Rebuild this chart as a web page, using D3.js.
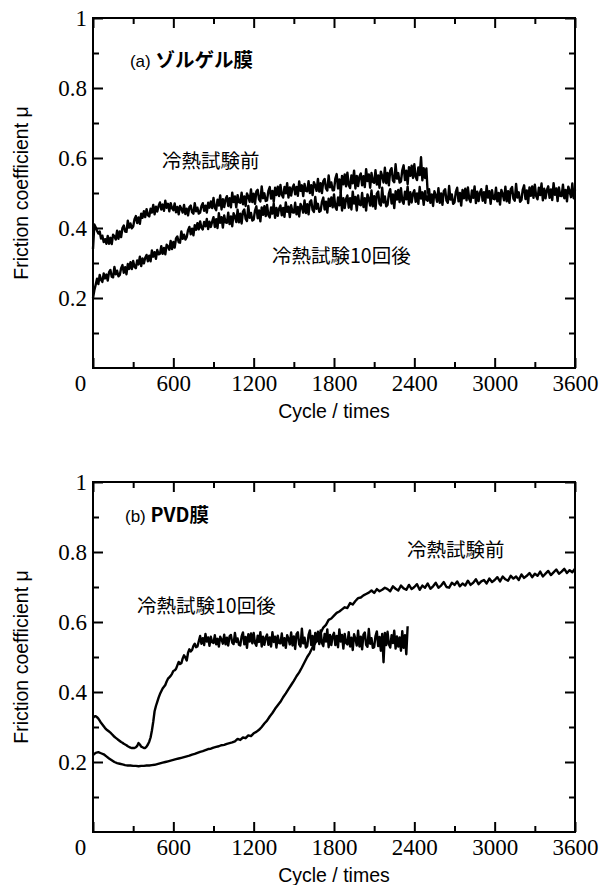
<!DOCTYPE html>
<html>
<head>
<meta charset="utf-8">
<script src="https://cdn.jsdelivr.net/npm/d3@7"></script>
<style>
  body { margin: 0; background: #fff; }
  .domain { display: none; }
  .tick line { stroke: #000; stroke-width: 2; }
  .frame { fill: none; stroke: #000; stroke-width: 2; }
  .line { fill: none; stroke: #000; stroke-width: 2.4; stroke-linejoin: round; }
  .label { font-family: "Liberation Sans", Arial, sans-serif; font-size: 19.5px; fill: #000; }
  .note { font-family: "Noto Sans CJK JP", sans-serif; font-size: 19.5px; fill: #000; }
</style>
</head>
<body>
<svg id="chart" width="602" height="885"></svg>
<script>
'use strict';

// sampling steps (cycles between two stored values)
var NOISY_STEP = 10;
var SMOOTH_STEP = 20;

var xMajor = [0, 600, 1200, 1800, 2400, 3000, 3600];
var xMinor = [300, 900, 1500, 2100, 2700, 3300];
var yMajor = [0.2, 0.4, 0.6, 0.8, 1];
var yMinor = [0.1, 0.3, 0.5, 0.7, 0.9];

// (a) sol-gel film, before thermal cycling, every 10 cycles
var solgelBefore = [
  .34, .41, .402, .392, .384, .39, .37, .378, .36, .368,
  .355, .377, .355, .372, .354, .381, .376, .367, .392, .369,
  .39, .374, .4, .407, .39, .389, .421, .401, .413, .399,
  .404, .425, .434, .414, .43, .412, .441, .429, .448, .431,
  .454, .437, .433, .455, .444, .466, .439, .461, .447, .463,
  .473, .453, .467, .449, .478, .458, .469, .448, .471, .457,
  .451, .47, .445, .46, .439, .463, .455, .444, .466, .44,
  .455, .436, .46, .464, .445, .441, .471, .448, .458, .441,
  .444, .463, .471, .449, .464, .444, .472, .458, .476, .457,
  .486, .458, .451, .481, .464, .493, .453, .482, .46, .482,
  .491, .463, .485, .459, .501, .474, .49, .459, .494, .474,
  .472, .501, .468, .49, .463, .499, .49, .475, .51, .474,
  .498, .469, .504, .509, .482, .476, .519, .485, .499, .477,
  .479, .506, .517, .484, .506, .475, .515, .494, .518, .491,
  .523, .495, .487, .517, .499, .528, .487, .516, .493, .515,
  .524, .496, .517, .492, .533, .506, .522, .491, .526, .506,
  .505, .534, .5, .522, .494, .531, .521, .506, .54, .504,
  .528, .5, .534, .54, .513, .507, .55, .516, .53, .508,
  .508, .541, .554, .513, .539, .501, .549, .525, .553, .519,
  .558, .523, .514, .55, .528, .564, .513, .549, .52, .547,
  .556, .522, .548, .517, .568, .534, .553, .515, .557, .532,
  .529, .565, .524, .55, .515, .561, .548, .53, .572, .528,
  .557, .522, .564, .571, .536, .531, .582, .541, .557, .53,
  .533, .565, .579, .537, .564, .525, .574, .549, .578, .543,
  .582, .546, .537, .573, .551, .602, .536, .571, .543, .57,
  .498
];

// (a) sol-gel film, after 10 thermal cycles, every 10 cycles
var solgelAfter = [
  .2, .222, .238, .255, .24, .266, .252, .246, .27, .256,
  .267, .25, .274, .28, .261, .259, .289, .268, .278, .262,
  .266, .285, .294, .272, .288, .268, .297, .283, .302, .283,
  .306, .289, .285, .307, .296, .318, .291, .313, .299, .315,
  .323, .305, .321, .305, .336, .318, .331, .312, .337, .325,
  .326, .348, .326, .343, .325, .352, .347, .338, .363, .34,
  .36, .344, .37, .376, .359, .358, .39, .369, .381, .367,
  .374, .394, .403, .382, .398, .379, .408, .395, .414, .396,
  .419, .401, .396, .417, .405, .426, .397, .418, .403, .418,
  .431, .403, .425, .4, .442, .415, .431, .401, .436, .416,
  .415, .444, .411, .433, .405, .442, .433, .417, .452, .416,
  .441, .413, .447, .453, .426, .42, .463, .429, .443, .421,
  .424, .45, .462, .428, .45, .419, .459, .438, .462, .434,
  .466, .437, .43, .459, .441, .47, .429, .457, .435, .456,
  .464, .436, .457, .432, .473, .446, .461, .431, .465, .445,
  .444, .472, .439, .46, .433, .469, .46, .444, .479, .443,
  .468, .439, .474, .479, .452, .446, .489, .455, .469, .446,
  .449, .475, .487, .453, .475, .444, .484, .463, .487, .459,
  .496, .46, .452, .487, .465, .501, .45, .485, .457, .483,
  .493, .458, .485, .453, .504, .47, .489, .45, .493, .467,
  .465, .5, .46, .485, .45, .496, .483, .464, .507, .462,
  .491, .455, .498, .504, .469, .464, .515, .473, .49, .462,
  .466, .498, .511, .47, .496, .457, .505, .481, .509, .474,
  .514, .478, .469, .504, .482, .518, .467, .502, .473, .499,
  .508, .475, .499, .469, .517, .484, .502, .466, .505, .481,
  .478, .511, .472, .496, .463, .505, .493, .475, .514, .472,
  .499, .466, .505, .511, .478, .472, .52, .481, .496, .469,
  .473, .503, .515, .476, .5, .464, .509, .485, .512, .479,
  .516, .483, .474, .507, .486, .519, .471, .504, .477, .501,
  .511, .478, .502, .472, .52, .487, .505, .469, .508, .484,
  .482, .515, .476, .5, .467, .509, .497, .479, .518, .476,
  .505, .472, .511, .517, .484, .478, .526, .487, .502, .475,
  .48, .51, .522, .483, .507, .471, .516, .492, .519, .486,
  .524, .491, .482, .515, .494, .527, .479, .512, .485, .509,
  .519, .486, .51, .48, .528, .495, .513, .477, .516, .492,
  .491, .524, .485, .509, .476, .518, .506, .488, .527, .485,
  .51
];

// (b) PVD film, before thermal cycling, every 20 cycles
var pvdBefore = [
  .22, .226, .228, .225, .222, .216, .21, .205, .2, .197,
  .195, .193, .191, .19, .19, .189, .189, .188, .189, .189,
  .19, .19, .191, .192, .194, .196, .198, .2, .202, .204,
  .206, .208, .21, .212, .214, .216, .218, .221, .223, .226,
  .229, .231, .234, .237, .238, .241, .243, .245, .248, .249,
  .252, .254, .256, .259, .266, .263, .27, .268, .276, .274,
  .282, .286, .292, .3, .31, .318, .33, .34, .352, .362,
  .372, .385, .396, .408, .42, .432, .445, .456, .47, .485,
  .5, .512, .528, .54, .556, .568, .584, .592, .606, .61,
  .618, .626, .63, .636, .642, .64, .654, .65, .66, .668,
  .67, .676, .68, .684, .69, .683, .694, .688, .692, .698,
  .694, .688, .702, .695, .69, .704, .696, .692, .706, .694,
  .7, .708, .692, .704, .698, .71, .695, .702, .712, .698,
  .704, .714, .7, .698, .712, .706, .716, .702, .71, .704,
  .718, .706, .712, .722, .708, .716, .72, .71, .724, .714,
  .72, .728, .716, .73, .722, .718, .732, .724, .73, .72,
  .736, .726, .732, .74, .728, .738, .732, .744, .73, .738,
  .746, .734, .742, .75, .738, .744, .752, .74, .748, .742,
  .752
];

// (b) PVD film, after 10 thermal cycles, every 10 cycles
var pvdAfter = [
  .326, .33, .331, .328, .324, .318, .312, .307, .302, .297,
  .293, .29, .287, .284, .28, .276, .272, .269, .266, .263,
  .26, .257, .255, .252, .25, .248, .245, .243, .241, .24,
  .24, .24, .242, .246, .254, .25, .244, .242, .24, .24,
  .244, .25, .258, .27, .29, .315, .345, .36, .372, .384,
  .394, .402, .41, .415, .42, .43, .438, .442, .446, .452,
  .46, .462, .466, .476, .486, .48, .482, .496, .505, .498,
  .49, .512, .522, .516, .52, .532, .538, .528, .53, .545,
  .56, .538, .554, .534, .566, .544, .556, .532, .558, .542,
  .54, .562, .536, .552, .53, .558, .55, .538, .564, .536,
  .555, .533, .559, .563, .541, .537, .569, .543, .553, .535,
  .533, .559, .57, .536, .557, .526, .565, .544, .567, .539,
  .569, .54, .532, .561, .543, .571, .53, .558, .535, .556,
  .564, .535, .556, .53, .571, .543, .558, .527, .561, .54,
  .539, .567, .533, .554, .526, .562, .552, .536, .57, .533,
  .559, .523, .565, .571, .536, .53, .581, .539, .555, .527,
  .531, .563, .576, .534, .56, .521, .569, .544, .572, .537,
  .576, .54, .531, .566, .544, .579, .528, .563, .534, .56,
  .569, .534, .56, .528, .579, .544, .563, .524, .566, .54,
  .536, .571, .53, .555, .52, .565, .552, .533, .575, .53,
  .558, .522, .564, .57, .535, .529, .58, .538, .554, .526,
  .528, .56, .573, .531, .557, .518, .566, .485, .569, .534,
  .572, .536, .527, .562, .54, .575, .524, .559, .53, .556,
  .518, .574, .526, .562, .508, .588
];

var svg = d3.select('#chart'),
  margin = {left: 93},
  width = 482,
  height = 350;

var x = d3.scaleLinear().domain([0, 3600]).range([0, width]);
var y = d3.scaleLinear().domain([0, 1]).range([height, 0]);

function line(step) {
  return d3.line()
    .x(function(d, i) { return x(i * step); })
    .y(function(d) { return y(d); });
}

// tag / notes: [cycle, mu, text]
function panel(top, tag, film, series, notes) {
  var g = svg.append('g').attr('transform', 'translate(' + margin.left + ',' + top + ')');

  // ticks point inward on all four sides
  g.append('g').attr('class', 'num').attr('transform', 'translate(0,' + height + ')')
    .call(d3.axisBottom(x).tickValues(xMajor).tickSize(-10).tickPadding(7).tickFormat(d3.format('d')))
    .selectAll('text').filter(function(d) { return d === 0; }).attr('dx', -13);
  g.append('g').attr('transform', 'translate(0,' + height + ')')
    .call(d3.axisBottom(x).tickValues(xMinor).tickSize(-6).tickFormat(''));
  g.append('g')
    .call(d3.axisTop(x).tickValues(xMajor).tickSize(-10).tickFormat(''));
  g.append('g')
    .call(d3.axisTop(x).tickValues(xMinor).tickSize(-6).tickFormat(''));
  g.append('g').attr('class', 'num')
    .call(d3.axisLeft(y).tickValues(yMajor).tickSize(-10).tickPadding(6).tickFormat(d3.format('~g')));
  g.append('g')
    .call(d3.axisLeft(y).tickValues(yMinor).tickSize(-6).tickFormat(''));
  g.append('g').attr('transform', 'translate(' + width + ',0)')
    .call(d3.axisRight(y).tickValues(yMajor).tickSize(-10).tickFormat(''));
  g.append('g').attr('transform', 'translate(' + width + ',0)')
    .call(d3.axisRight(y).tickValues(yMinor).tickSize(-6).tickFormat(''));

  g.selectAll('.num text')
    .style('font-family', '"Liberation Serif", "Times New Roman", serif')
    .style('font-size', '23px')
    .style('fill', '#000');

  g.append('rect').attr('class', 'frame').attr('width', width).attr('height', height);

  series.forEach(function(s) {
    g.append('path').datum(s[0]).attr('class', 'line').attr('d', line(s[1]));
  });

  var t = g.append('text').attr('x', x(tag[0])).attr('y', y(tag[1]));
  t.append('tspan').attr('class', 'label').style('font-size', '17px').text(tag[2] + ' ');
  t.append('tspan').attr('class', 'note').style('font-weight', 'bold').text(film);

  notes.forEach(function(n) {
    g.append('text').attr('class', 'note')
      .attr('x', x(n[0])).attr('y', y(n[1]))
      .text(n[2]);
  });

  g.append('text').attr('class', 'label')
    .attr('x', width / 2).attr('y', height + 50)
    .attr('text-anchor', 'middle')
    .text('Cycle / times');

  g.append('text').attr('class', 'label')
    .attr('transform', 'translate(' + (28 - margin.left) + ',' + height / 2 + ') rotate(-90)')
    .attr('text-anchor', 'middle')
    .text('Friction coefficient μ');
}

panel(18, [276, 0.86, '(a)'], 'ゾルゲル膜',
  [[solgelAfter, NOISY_STEP], [solgelBefore, NOISY_STEP]],
  [[515, 0.571, '冷熱試験前'], [1337, 0.30, '冷熱試験10回後']]);

panel(482, [239, 0.886, '(b)'], 'PVD膜',
  [[pvdBefore, SMOOTH_STEP], [pvdAfter, NOISY_STEP]],
  [[329, 0.626, '冷熱試験10回後'], [2345, 0.786, '冷熱試験前']]);
</script>
</body>
</html>
